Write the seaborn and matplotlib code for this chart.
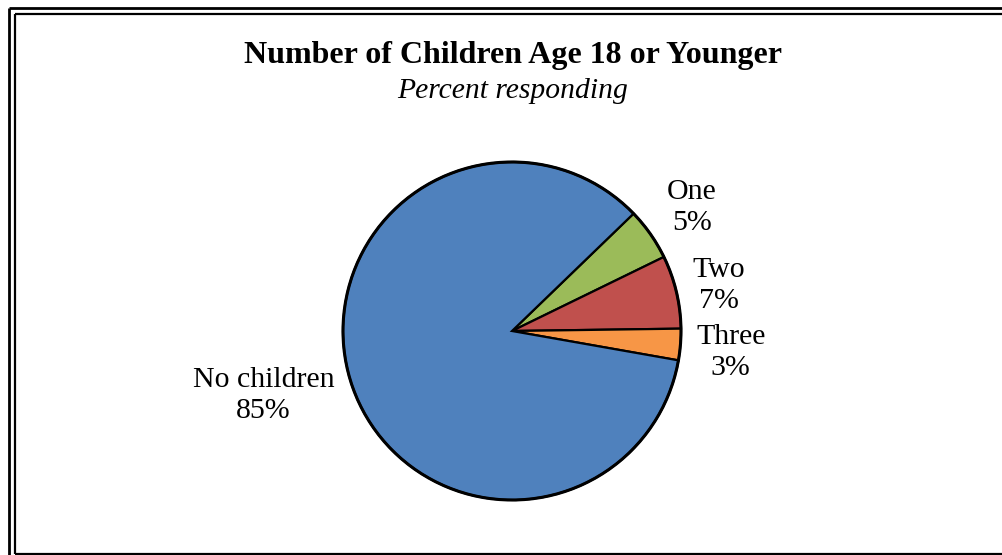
import numpy as np
import matplotlib
matplotlib.use("Agg")
import matplotlib.pyplot as plt
import seaborn as sns

# Slice data (clockwise from the upper right)
categories = ["One", "Two", "Three", "No children"]
percents = [5, 7, 3, 85]
colors = ["#9BBB59", "#C0504D", "#F79646", "#4F81BD"]

title = "Number of Children Age 18 or Younger"
subtitle = "Percent responding"

sns.set_theme(style="white")
plt.rcParams["font.family"] = ["Liberation Serif", "DejaVu Serif"]

W, H = 1003, 555
fig = plt.figure(figsize=(W / 100, H / 100), dpi=100)
ax = fig.add_axes([0, 0, 1, 1])

# Pie in pixel units (y measured from the bottom)
cx, cy, r = 512, H - 331, 169
wedges, _ = ax.pie(percents, colors=colors, startangle=44, counterclock=False,
                   center=(cx, cy), radius=r, frame=True,
                   wedgeprops=dict(edgecolor="black", linewidth=1.6))
ax.set_xlim(0, W)
ax.set_ylim(0, H)
ax.axis("off")

# Outer rim a bit heavier
ax.add_patch(plt.Circle((cx, cy), r, fill=False, edgecolor="black", linewidth=2.2))

# Labels placed at wedge mid angles
label_dist = [1.29, 1.255, 1.30, 1.52]
label_shift = [-0.6, -1.0, -0.9, -2.4]
for w, name, pct, d, s in zip(wedges, categories, percents, label_dist, label_shift):
    mid = np.deg2rad((w.theta1 + w.theta2) / 2 + s)
    lx = cx + d * r * np.cos(mid)
    ly = cy + d * r * np.sin(mid)
    ax.text(lx, ly, f"{name}\n{pct}%", ha="center", va="center",
            fontsize=21.5, linespacing=1.25, color="black")

# Titles
ax.text(513, H - 55, title, ha="center", va="center",
        fontsize=23, fontweight="bold", color="black")
ax.text(513, H - 91, subtitle, ha="center", va="center",
        fontsize=21.3, fontstyle="italic", color="black")

# Double frame, cut off at right and bottom like the source
ax.plot([9, 9], [H - 8, -5], color="black", lw=2.0, solid_capstyle="butt")
ax.plot([9, W + 5], [H - 8, H - 8], color="black", lw=2.0, solid_capstyle="butt")
ax.plot([15, 15], [1, H - 14], color="black", lw=1.6, solid_capstyle="butt")
ax.plot([15, W + 5], [H - 14, H - 14], color="black", lw=1.6, solid_capstyle="butt")
ax.plot([15, W + 5], [1, 1], color="black", lw=1.6, solid_capstyle="butt")

fig.savefig("out.png", dpi=100)
